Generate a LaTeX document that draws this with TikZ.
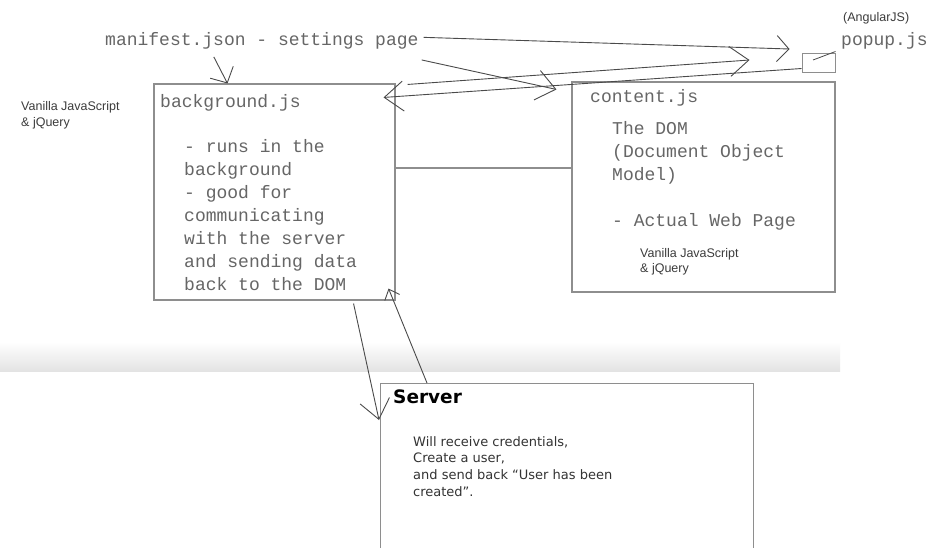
\documentclass[tikz,border=0pt]{standalone}
\usepackage{fontspec}
\setmonofont{Liberation Mono}
\setsansfont{Liberation Sans}
\newfontfamily\serverfont{DejaVu Sans}
\usepackage{tikz}
\usetikzlibrary{arrows.meta,positioning}
\definecolor{inkgray}{HTML}{4A4A4A}
\definecolor{boxgray}{HTML}{8E8E8E}
\definecolor{codegray}{HTML}{666666}
\definecolor{notegray}{HTML}{3C3C3C}
\definecolor{servertext}{HTML}{333333}

\begin{document}
\begin{tikzpicture}[
  x=1pt,y=-1pt,
  codetext/.style={anchor=base west,inner sep=0pt,align=left,text=codegray,
    font=\ttfamily\fontsize{18}{23}\selectfont},
  libnote/.style={anchor=base west,inner sep=0pt,align=left,text=notegray,
    font=\sffamily\fontsize{12.5}{15.5}\selectfont},
  filebox/.style={draw=boxgray,line width=1.1pt,inner sep=0pt},
  sketch/.style={-{Straight Barb[length=12pt,width=26pt]},draw=inkgray,
    line width=0.9pt},
  sketchlong/.style={-{Straight Barb[length=19pt,width=30pt]},draw=inkgray,
    line width=0.9pt},
  sketchsmall/.style={-{Straight Barb[length=9pt,width=16pt]},draw=inkgray,
    line width=0.9pt}
]
\clip (0,0) rectangle (927,547);
\fill[white] (0,0) rectangle (927,547);
% slide edge band
\shade[top color=white,bottom color=black!11] (0,342) rectangle (840,371);

% manifest + left note (multi-line nodes sit on their last baseline)
\node[codetext] (manifest) at (105,45) {manifest.json - settings page};
\node[libnote] (bgnote) at (21,126) {Vanilla JavaScript\\\& jQuery};

% background.js
\node[filebox,minimum width=241pt,minimum height=216pt] (bg) at (274.5,192) {};
\node[codetext] (bgtitle) at (160,107) {background.js};
\node[codetext] (bgbody) at (184,290)
  {- runs in the\\background\\- good for\\communicating\\with the server\\and sending data\\back to the DOM};

% content.js
\node[filebox,minimum width=263pt,minimum height=210pt] (content) at (703.5,187) {};
\node[codetext] (cttitle) at (590,102) {content.js};
\node[codetext] (ctbody) at (612,226)
  {The DOM\\(Document Object\\Model)\\\\- Actual Web Page};
\node[libnote] (ctnote) at (640,272.5) {Vanilla JavaScript\\\& jQuery};

% popup.js
\node[libnote] (angular) at (843,21) {(AngularJS)};
\node[codetext] (popuptxt) at (841,45) {popup.js};
\node[filebox,line width=1pt,minimum width=33pt,minimum height=19pt] (popupbox)
  at (818.5,62.5) {};
\draw[inkgray,line width=0.8pt] ([xshift=-5.5pt,yshift=2.5pt]popupbox.center)
  -- ([yshift=1pt]popupbox.north east);

% server
\node[filebox,line width=1.4pt,minimum width=373pt,minimum height=180pt,anchor=north west]
  (server) at (380,383) {};
\node[anchor=base west,inner sep=0pt,font=\serverfont\bfseries\fontsize{18.5}{22}\selectfont]
  (srvtitle) at (393,403) {Server};
\node[anchor=base west,inner sep=0pt,align=left,text=servertext,
  font=\serverfont\fontsize{13}{16.6}\selectfont] (srvbody) at (413,496)
  {Will receive credentials,\\Create a user,\\and send back “User has been\\created”.};

% arrows
\draw[sketch] ([xshift=5pt,yshift=3pt]manifest.east)
  -- ([xshift=-12pt,yshift=13.5pt]popupbox.west);
\draw[sketch] ([xshift=-48pt,yshift=-8pt]manifest.south)
  -- ([xshift=-47pt]bg.north);
\draw[sketchlong] ([xshift=3pt,yshift=-11pt]manifest.south east)
  -- ([xshift=-15pt,yshift=-8pt]content.north west);
\draw[sketchlong] ([xshift=12pt,yshift=-1pt]bg.north east)
  -- ([xshift=-52pt,yshift=2.5pt]popupbox.west);
\draw[sketchlong] ([yshift=4pt]popupbox.south west)
  -- ([xshift=-12pt,yshift=-14pt]bg.north east);
\draw[boxgray,line width=1.1pt] ([yshift=24pt]bg.east) -- ([yshift=24pt]bg.east -| content.west);
\draw[sketchlong] ([xshift=-42pt,yshift=-3pt]bg.south east)
  -- ([xshift=-1pt,yshift=-37pt]server.north west);
\draw[sketchsmall] ([xshift=47pt]server.north west)
  -- ([xshift=-7pt,yshift=12pt]bg.south east);
\end{tikzpicture}
\end{document}
